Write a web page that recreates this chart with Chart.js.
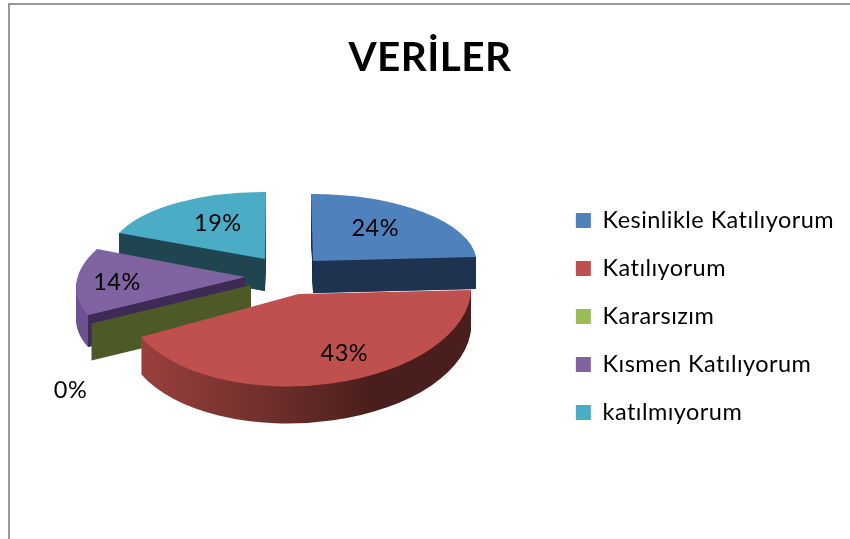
<!DOCTYPE html>
<html>
<head>
<meta charset="utf-8">
<script src="https://cdn.jsdelivr.net/npm/chart.js@4/dist/chart.umd.min.js"></script>
<style>
html,body{margin:0;padding:0;background:#fff;overflow:hidden}
#frame{position:absolute;left:8px;top:3px;right:-5px;bottom:-5px;border:2px solid #999}
#wrap{position:absolute;left:0;top:0;width:850px;height:539px}
canvas{filter:blur(0.4px)}
</style>
</head>
<body>
<div id="frame"></div>
<div id="wrap"><canvas id="c" width="850" height="539"></canvas></div>
<script>
const categories = ['Kesinlikle Katılıyorum', 'Katılıyorum', 'Kararsızım', 'Kısmen Katılıyorum', 'katılmıyorum'];
const shares = [24, 43, 0, 14, 19];
const chartTitle = 'VERİLER';

const topColors = ['#4F81BD', '#C0504D', '#9BBB59', '#8064A2', '#4BACC6'];
const cutColors = ['#1E3350', '#4A1E1C', '#4D5A27', '#3E2A55', '#1F4650'];
// Perspective of each exploded slice: [a, b, c, d, e, f], a canvas affine transform of the unit pie.
const views = [
  [163.4, 0.2, 2, 67, 313, 261],
  [172, 1.8, -14, 92.5, 298.5, 294],
  [182, 0, 0, 80, 251, 285],
  [167.5, -0.65, -21.2, 77.7, 245, 277],
  [157.4, 1.4, -1, 67, 265, 259]
];
const depths = [32, 37, 37, 32, 32];
const labelFractions = [0.6, 0.66, 1, 0.76, 0.55];
const labelNudges = [[-4, -3], [23, 0], [-21, 67], [0, 1], [1, -5]];
const paintOrder = [4, 0, 3, 2, 1];
const textSpacing = '0.45px';

function withView(ctx, arc, i, dy, fn) {
  const v = views[i], R = arc.outerRadius;
  ctx.save();
  ctx.translate(v[4], v[5] + dy);
  ctx.transform(v[0] / R, v[1] / R, v[2] / R, v[3] / R, 0, 0);
  ctx.translate(-arc.x, -arc.y);
  fn();
  ctx.restore();
}
function paintArc(ctx, arc, i, dy, color) {
  const saved = arc.options;
  arc.options = Object.assign({}, saved, {backgroundColor: color, borderWidth: 0, offset: 0});
  withView(ctx, arc, i, dy, () => arc.draw(ctx));
  arc.options = saved;
}
function cutWall(ctx, i, angle, color) {
  const v = views[i], ux = Math.cos(angle), uy = Math.sin(angle);
  const rx = v[4] + v[0] * ux + v[2] * uy, ry = v[5] + v[1] * ux + v[3] * uy;
  ctx.save();
  ctx.fillStyle = color;
  ctx.beginPath();
  ctx.moveTo(v[4], v[5]);
  ctx.lineTo(rx, ry);
  ctx.lineTo(rx, ry + depths[i]);
  ctx.lineTo(v[4], v[5] + depths[i]);
  ctx.closePath();
  ctx.fill();
  ctx.restore();
}
function outerColor(ctx, arc, i) {
  if (i === 1) {
    const g = ctx.createLinearGradient(arc.x - arc.outerRadius, 0, arc.x + arc.outerRadius, 0);
    g.addColorStop(0, '#A04340');
    g.addColorStop(0.45, '#702F2C');
    g.addColorStop(0.75, '#4A1E1C');
    g.addColorStop(1, '#4A1E1C');
    return g;
  }
  if (i === 3) return '#6C5290';
  return cutColors[i];
}

const pie3d = {
  id: 'pie3d',
  beforeLayout(chart) { chart.ctx.letterSpacing = textSpacing; },
  beforeDraw(chart) { chart.ctx.letterSpacing = textSpacing; },
  beforeDatasetsDraw(chart) {
    const ctx = chart.ctx, arcs = chart.getDatasetMeta(0).data;
    paintOrder.forEach(i => {
      const arc = arcs[i];
      const zero = shares[i] === 0;
      if (!zero) {
        for (let d = depths[i]; d >= 1; d--) paintArc(ctx, arc, i, d, outerColor(ctx, arc, i));
        if (i === 0) cutWall(ctx, i, arc.endAngle, cutColors[i]);
        if (i === 3 || i === 4) cutWall(ctx, i, arc.startAngle, cutColors[i]);
      } else {
        cutWall(ctx, i, arc.startAngle, cutColors[i]);
      }
      if (!zero) paintArc(ctx, arc, i, 0, topColors[i]);
    });
    ctx.save();
    ctx.fillStyle = '#000';
    ctx.font = '23.5px Lato';
    ctx.textAlign = 'center';
    ctx.textBaseline = 'middle';
    arcs.forEach((arc, i) => {
      const v = views[i], mid = (arc.startAngle + arc.endAngle) / 2;
      const ux = Math.cos(mid) * labelFractions[i], uy = Math.sin(mid) * labelFractions[i];
      const x = v[4] + v[0] * ux + v[2] * uy + labelNudges[i][0];
      const y = v[5] + v[1] * ux + v[3] * uy + labelNudges[i][1];
      ctx.fillText(shares[i] + '%', x, y);
    });
    ctx.restore();
    return false;
  }
};

new Chart(document.getElementById('c'), {
  type: 'pie',
  data: {
    labels: categories,
    datasets: [{data: shares, backgroundColor: topColors, borderWidth: 0}]
  },
  options: {
    responsive: false,
    animation: false,
    layout: {padding: {left: 16, right: 6, top: 34, bottom: -60}},
    plugins: {
      tooltip: {enabled: false},
      title: {
        display: true,
        text: chartTitle,
        color: '#000',
        font: {family: 'Lato', size: 40.5, weight: 'bold'},
        padding: {top: 0, bottom: 0}
      },
      legend: {
        position: 'right',
        labels: {
          boxWidth: 15,
          boxHeight: 15,
          padding: 24.5,
          color: '#000',
          font: {family: 'Lato', size: 23.5}
        }
      }
    }
  },
  plugins: [pie3d]
});
</script>
</body>
</html>
